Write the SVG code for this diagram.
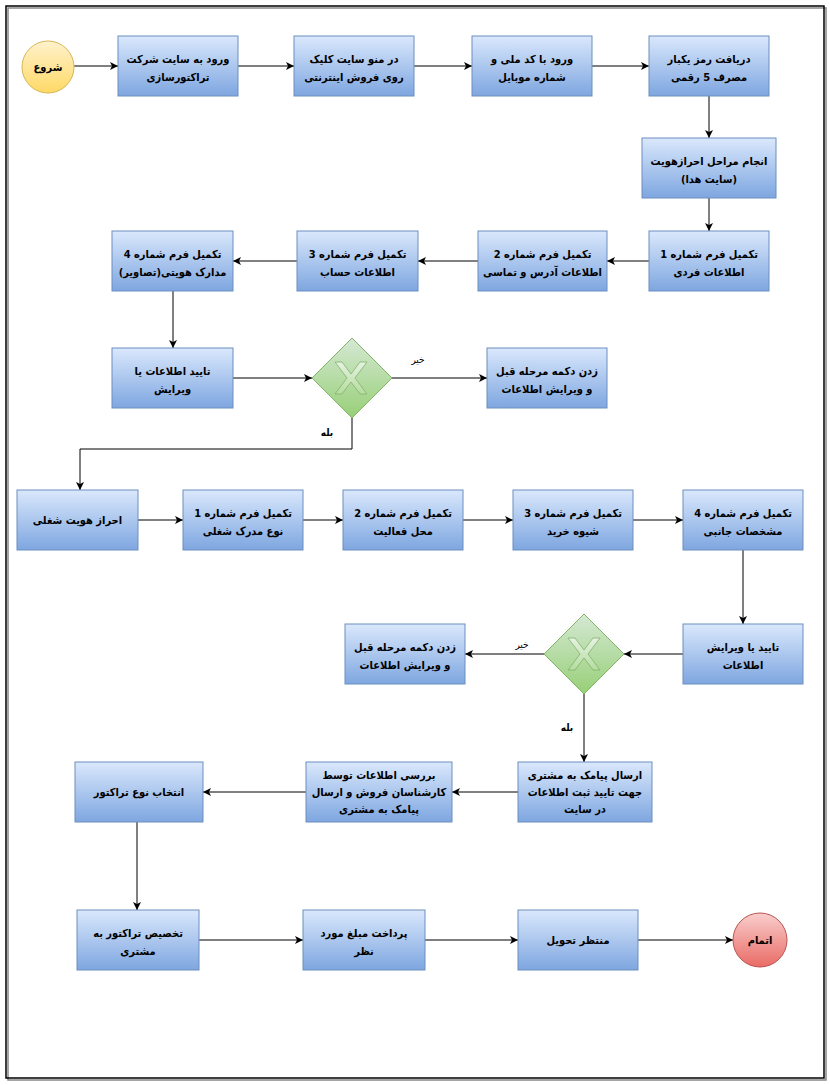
<svg xmlns="http://www.w3.org/2000/svg" width="830" height="1085" viewBox="0 0 830 1085">
<style>
.box{fill:url(#gBlue);stroke:#6c8ebf;stroke-width:1}
.dia{fill:url(#gGreen);stroke:#82b366;stroke-width:1}
.xm{fill:url(#gX);stroke:#82b366;stroke-width:0.8}
.t{font-family:"DejaVu Sans Condensed","DejaVu Sans",sans-serif;font-weight:bold;font-size:11px;fill:#000;text-anchor:middle;direction:rtl}
.lb{font-family:"DejaVu Sans Condensed","DejaVu Sans",sans-serif;font-size:10px;fill:#000;text-anchor:middle;direction:rtl}
.lbb{font-family:"DejaVu Sans Condensed","DejaVu Sans",sans-serif;font-weight:bold;font-size:10px;fill:#000;text-anchor:middle;direction:rtl}
.c{fill:none;stroke:#000;stroke-width:1;marker-end:url(#arr)}
</style>
<defs>
<linearGradient id="gBlue" x1="0" y1="0" x2="0" y2="1"><stop offset="0" stop-color="#dae8fc"/><stop offset="1" stop-color="#7ea6e0"/></linearGradient>
<linearGradient id="gGreen" x1="0" y1="0" x2="0" y2="1"><stop offset="0" stop-color="#d5e8d4"/><stop offset="1" stop-color="#97d077"/></linearGradient>
<linearGradient id="gX" x1="0" y1="0" x2="0" y2="1"><stop offset="0" stop-color="#e6f2e4"/><stop offset="1" stop-color="#b5dca0"/></linearGradient>
<linearGradient id="gYel" x1="0" y1="0" x2="0" y2="1"><stop offset="0" stop-color="#fff2cc"/><stop offset="1" stop-color="#ffd966"/></linearGradient>
<linearGradient id="gRed" x1="0" y1="0" x2="0" y2="1"><stop offset="0" stop-color="#f8cecc"/><stop offset="1" stop-color="#ea6b66"/></linearGradient>
<marker id="arr" viewBox="0 0 10 10" refX="10" refY="5" markerWidth="9" markerHeight="8" markerUnits="userSpaceOnUse" orient="auto"><path d="M0,0 L10,5 L0,10 L2.5,5 Z" fill="#000"/></marker>
<polygon id="xshape" points="-16,-16 -9,-16 0,-4 9,-16 16,-16 4,0 16,16 9,16 0,4 -9,16 -16,16 -4,0"/>
</defs>

<g id="frame">
<rect x="8" y="8" width="818" height="1072" fill="none" stroke="#888" stroke-width="1.5"/>
<rect x="6" y="6" width="818" height="1072" fill="none" stroke="#000" stroke-width="1.5"/>
</g>

<g id="connectors">
<path class="c" d="M74,66 L118,66"/>
<path class="c" d="M238,66 L294,66"/>
<path class="c" d="M414,66 L472,66"/>
<path class="c" d="M592,66 L649,66"/>
<path class="c" d="M709,96 L709,138"/>
<path class="c" d="M709,198 L709,231"/>
<path class="c" d="M649,261 L607,261"/>
<path class="c" d="M478,261 L418,261"/>
<path class="c" d="M297,261 L233,261"/>
<path class="c" d="M173,291 L173,348"/>
<path class="c" d="M233,378 L312,378"/>
<path class="c" d="M392,378 L487,378"/>
<path class="c" d="M352,418 L352,449 L80,449 L80,490"/>
<path class="c" d="M138,520 L183,520"/>
<path class="c" d="M303,520 L343,520"/>
<path class="c" d="M463,520 L513,520"/>
<path class="c" d="M633,520 L683,520"/>
<path class="c" d="M743,550 L743,624"/>
<path class="c" d="M683,654 L624,654"/>
<path class="c" d="M544,654 L465,654"/>
<path class="c" d="M584,694 L584,762"/>
<path class="c" d="M518,792 L452,792"/>
<path class="c" d="M306,792 L203,792"/>
<path class="c" d="M137,822 L137,910"/>
<path class="c" d="M199,940 L303,940"/>
<path class="c" d="M425,940 L518,940"/>
<path class="c" d="M638,940 L733,940"/>
<text class="lb" x="418" y="363">خیر</text>
<text class="lbb" x="327" y="436">بله</text>
<text class="lb" x="522" y="648">خیر</text>
<text class="lbb" x="567" y="731">بله</text>
</g>

<g id="start">
<circle cx="48" cy="67" r="26" fill="url(#gYel)" stroke="#d6b656"/>
<text class="t" x="48" y="71">شروع</text>
</g>

<g id="n1"><rect class="box" x="118" y="36" width="120" height="60"/>
<text class="t" x="178" y="63">ورود به سایت شرکت</text><text class="t" x="178" y="81">تراکتورسازی</text></g>
<g id="n2"><rect class="box" x="294" y="36" width="120" height="60"/>
<text class="t" x="354" y="63">در منو سایت کلیک</text><text class="t" x="354" y="81">روی فروش اینترنتی</text></g>
<g id="n3"><rect class="box" x="472" y="36" width="120" height="60"/>
<text class="t" x="532" y="63">ورود با کد ملی و</text><text class="t" x="532" y="81">شماره موبایل</text></g>
<g id="n4"><rect class="box" x="649" y="36" width="120" height="60"/>
<text class="t" x="709" y="63">دریافت رمز یکبار</text><text class="t" x="709" y="81">مصرف 5 رقمی</text></g>
<g id="n5"><rect class="box" x="642" y="138" width="134" height="60"/>
<text class="t" x="709" y="165">انجام مراحل احرازهویت</text><text class="t" x="709" y="183">(سایت هدا)</text></g>
<g id="n6"><rect class="box" x="649" y="231" width="120" height="60"/>
<text class="t" x="709" y="258">تکمیل فرم شماره 1</text><text class="t" x="709" y="276">اطلاعات فردی</text></g>
<g id="n7"><rect class="box" x="478" y="231" width="129" height="60"/>
<text class="t" x="542.5" y="258">تکمیل فرم شماره 2</text><text class="t" x="542.5" y="276">اطلاعات آدرس و تماسی</text></g>
<g id="n8"><rect class="box" x="297" y="231" width="121" height="60"/>
<text class="t" x="357.5" y="258">تکمیل فرم شماره 3</text><text class="t" x="357.5" y="276">اطلاعات حساب</text></g>
<g id="n9"><rect class="box" x="112" y="231" width="121" height="60"/>
<text class="t" x="172.5" y="258">تکمیل فرم شماره 4</text><text class="t" x="172.5" y="276">مدارک هویتی(تصاویر)</text></g>
<g id="n10"><rect class="box" x="112" y="348" width="121" height="60"/>
<text class="t" x="172.5" y="375">تایید اطلاعات یا</text><text class="t" x="172.5" y="393">ویرایش</text></g>
<g id="d1"><polygon class="dia" points="352,338 392,378 352,418 312,378"/>
<use href="#xshape" class="xm" transform="translate(351,378)"/></g>
<g id="n11"><rect class="box" x="487" y="348" width="120" height="60"/>
<text class="t" x="547" y="375">زدن دکمه مرحله قبل</text><text class="t" x="547" y="393">و ویرایش اطلاعات</text></g>
<g id="n12"><rect class="box" x="17" y="490" width="121" height="60"/>
<text class="t" x="77.5" y="524">احراز هویت شغلی</text></g>
<g id="n13"><rect class="box" x="183" y="490" width="120" height="60"/>
<text class="t" x="243" y="517">تکمیل فرم شماره 1</text><text class="t" x="243" y="535">نوع مدرک شغلی</text></g>
<g id="n14"><rect class="box" x="343" y="490" width="120" height="60"/>
<text class="t" x="403" y="517">تکمیل فرم شماره 2</text><text class="t" x="403" y="535">محل فعالیت</text></g>
<g id="n15"><rect class="box" x="513" y="490" width="120" height="60"/>
<text class="t" x="573" y="517">تکمیل فرم شماره 3</text><text class="t" x="573" y="535">شیوه خرید</text></g>
<g id="n16"><rect class="box" x="683" y="490" width="120" height="60"/>
<text class="t" x="743" y="517">تکمیل فرم شماره 4</text><text class="t" x="743" y="535">مشخصات جانبی</text></g>
<g id="n17"><rect class="box" x="683" y="624" width="120" height="60"/>
<text class="t" x="743" y="651">تایید یا ویرایش</text><text class="t" x="743" y="669">اطلاعات</text></g>
<g id="d2"><polygon class="dia" points="584,614 624,654 584,694 544,654"/>
<use href="#xshape" class="xm" transform="translate(584,654)"/></g>
<g id="n18"><rect class="box" x="345" y="624" width="120" height="60"/>
<text class="t" x="405" y="651">زدن دکمه مرحله قبل</text><text class="t" x="405" y="669">و ویرایش اطلاعات</text></g>
<g id="n19"><rect class="box" x="518" y="762" width="134" height="60"/>
<text class="t" x="585" y="779">ارسال پیامک به مشتری</text><text class="t" x="585" y="796">جهت تایید ثبت اطلاعات</text><text class="t" x="585" y="813">در سایت</text></g>
<g id="n20"><rect class="box" x="306" y="762" width="146" height="60"/>
<text class="t" x="379" y="779">بررسی اطلاعات توسط</text><text class="t" x="379" y="796">کارشناسان فروش و ارسال</text><text class="t" x="379" y="813">پیامک به مشتری</text></g>
<g id="n21"><rect class="box" x="75" y="762" width="128" height="60"/>
<text class="t" x="139" y="796">انتخاب نوع تراکتور</text></g>
<g id="n22"><rect class="box" x="77" y="910" width="122" height="60"/>
<text class="t" x="138" y="937">تخصیص تراکتور به</text><text class="t" x="138" y="955">مشتری</text></g>
<g id="n23"><rect class="box" x="303" y="910" width="122" height="60"/>
<text class="t" x="364" y="937">پرداخت مبلغ مورد</text><text class="t" x="364" y="955">نظر</text></g>
<g id="n24"><rect class="box" x="518" y="910" width="120" height="60"/>
<text class="t" x="578" y="944">منتظر تحویل</text></g>
<g id="end">
<circle cx="760" cy="940" r="27" fill="url(#gRed)" stroke="#b85450"/>
<text class="t" x="760" y="944">اتمام</text>
</g>
</svg>
